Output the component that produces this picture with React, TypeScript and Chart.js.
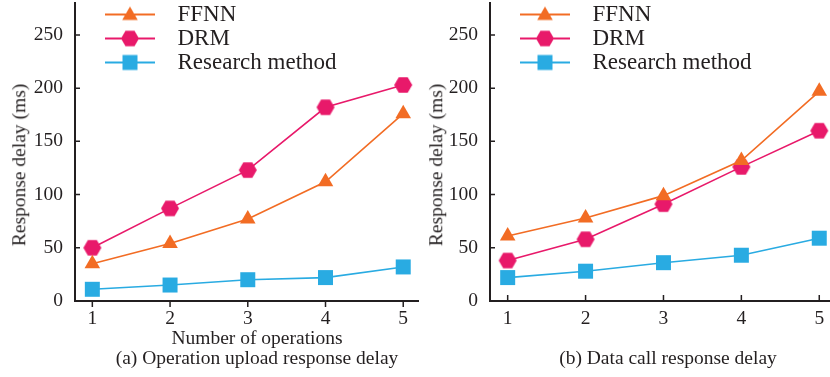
import React, { useEffect, useRef } from "react";
import { Chart, registerables } from "chart.js";

Chart.register(...registerables);

const xValues = [1, 2, 3, 4, 5];
const yTicks = [0, 50, 100, 150, 200, 250];
const seriesNames = ["FFNN", "DRM", "Research method"];

const uploadFFNN = [35, 54, 77, 112, 176];
const uploadDRM = [50, 87, 123, 182, 203];
const uploadResearch = [11, 15, 20, 22, 32];

const callFFNN = [61, 78, 99, 132, 197];
const callDRM = [38, 58, 91, 126, 160];
const callResearch = [22, 28, 36, 43, 59];

const yTitle = "Response delay (ms)";
const xTitleA = "Number of operations";
const captionA = "(a) Operation upload response delay";
const captionB = "(b) Data call response delay";

const ORANGE = "#f26c24";
const PINK = "#e8196a";
const BLUE = "#29abe2";
const INK = "#231f20";
const FONT = "'Liberation Serif', 'Times New Roman', serif";

function drawMarker(ctx: CanvasRenderingContext2D, kind: string, cx: number, cy: number, color: string) {
  ctx.fillStyle = color;
  ctx.beginPath();
  if (kind === "triangle") {
    const r = 9;
    for (let i = 0; i < 3; i++) {
      const a = (i * 2 * Math.PI) / 3;
      const px = cx + Math.sin(a) * r;
      const py = cy - Math.cos(a) * r;
      if (i === 0) ctx.moveTo(px, py);
      else ctx.lineTo(px, py);
    }
  } else if (kind === "hexagon") {
    const r = 9;
    for (let i = 0; i < 6; i++) {
      const a = (i * Math.PI) / 3;
      const px = cx + Math.cos(a) * r;
      const py = cy + Math.sin(a) * r;
      if (i === 0) ctx.moveTo(px, py);
      else ctx.lineTo(px, py);
    }
  } else {
    ctx.rect(cx - 7.5, cy - 7.5, 15, 15);
  }
  ctx.closePath();
  ctx.fill();
}

function makeHexagon(color: string) {
  const c = document.createElement("canvas");
  c.width = 20;
  c.height = 18;
  const ctx = c.getContext("2d")!;
  drawMarker(ctx, "hexagon", 10, 9, color);
  return c;
}

function makeLegendIcon(kind: string, color: string) {
  const c = document.createElement("canvas");
  c.width = 90;
  c.height = 22;
  const ctx = c.getContext("2d")!;
  ctx.strokeStyle = color;
  ctx.lineWidth = 2;
  ctx.beginPath();
  ctx.moveTo(29, 11);
  ctx.lineTo(79, 11);
  ctx.stroke();
  drawMarker(ctx, kind, 54, kind === "triangle" ? 12 : 11, color);
  return c;
}

const tickPlugin = (xDir: number) => ({
  id: "axisTicks",
  afterDraw(chart: any) {
    const ctx = chart.ctx;
    const xs = chart.scales.x;
    const ys = chart.scales.y;
    const area = chart.chartArea;
    ctx.save();
    ctx.strokeStyle = INK;
    ctx.lineWidth = 1.5;
    ctx.beginPath();
    for (const v of yTicks) {
      if (v === 0) continue;
      const py = ys.getPixelForValue(v);
      ctx.moveTo(area.left, py);
      ctx.lineTo(area.left + 5, py);
    }
    for (const v of xValues) {
      const px = xs.getPixelForValue(v);
      ctx.moveTo(px, area.bottom);
      ctx.lineTo(px, area.bottom + 6 * xDir);
    }
    ctx.stroke();
    ctx.restore();
  },
});

function buildConfig(
  ffnn: number[],
  drm: number[],
  research: number[],
  xMin: number,
  xMax: number,
  padLeft: number,
  padRight: number,
  xDir: number
): any {
  const hex = makeHexagon(PINK);
  const icons = [
    makeLegendIcon("triangle", ORANGE),
    makeLegendIcon("hexagon", PINK),
    makeLegendIcon("rect", BLUE),
  ];
  return {
    type: "line",
    data: {
      datasets: [
        {
          label: seriesNames[0],
          data: xValues.map((x, i) => ({ x, y: ffnn[i] })),
          borderColor: ORANGE,
          backgroundColor: ORANGE,
          borderWidth: 1.6,
          pointStyle: "triangle",
          pointRadius: 9,
          pointBorderWidth: 0,
        },
        {
          label: seriesNames[1],
          data: xValues.map((x, i) => ({ x, y: drm[i] })),
          borderColor: PINK,
          backgroundColor: PINK,
          borderWidth: 1.6,
          pointStyle: hex,
          pointRadius: 9,
          pointBorderWidth: 0,
        },
        {
          label: seriesNames[2],
          data: xValues.map((x, i) => ({ x, y: research[i] })),
          borderColor: BLUE,
          backgroundColor: BLUE,
          borderWidth: 1.6,
          pointStyle: "rect",
          pointRadius: 10.6,
          pointBorderWidth: 0,
        },
      ],
    },
    options: {
      responsive: false,
      animation: false,
      clip: false,
      layout: { autoPadding: false, padding: { top: 3, left: padLeft, right: padRight, bottom: 0 } },
      plugins: {
        tooltip: { enabled: false },
        legend: {
          position: "chartArea",
          align: "start",
          title: { display: true, text: " ", font: { size: 1 }, padding: 0.4 },
          labels: {
            usePointStyle: true,
            pointStyleWidth: 90,
            boxHeight: 22,
            padding: 1,
            color: INK,
            font: { family: FONT, size: 23 },
            generateLabels: (chart: any) =>
              chart.data.datasets.map((ds: any, i: number) => ({
                text: ds.label,
                pointStyle: icons[i],
                fillStyle: ds.backgroundColor,
                strokeStyle: ds.borderColor,
                lineWidth: 0,
                fontColor: INK,
                datasetIndex: i,
                hidden: false,
              })),
          },
        },
      },
      scales: {
        x: {
          type: "linear",
          min: xMin,
          max: xMax,
          afterBuildTicks: (axis: any) => {
            axis.ticks = xValues.map((v) => ({ value: v }));
          },
          afterFit: (axis: any) => {
            axis.height = 76;
            axis.paddingLeft = 0;
            axis.paddingRight = 0;
          },
          grid: { display: false, drawTicks: false },
          border: { display: true, color: INK, width: 2 },
          ticks: {
            padding: 6,
            color: INK,
            font: { family: FONT, size: 19.5 },
            maxRotation: 0,
            callback: (v: any) => String(v),
          },
        },
        y: {
          min: 0,
          max: 280,
          afterBuildTicks: (axis: any) => {
            axis.ticks = yTicks.map((v) => ({ value: v }));
          },
          afterFit: (axis: any) => {
            axis.width = 75 - padLeft;
            axis.paddingTop = 0;
            axis.paddingBottom = 0;
          },
          grid: { display: false, drawTicks: false },
          border: { display: true, color: INK, width: 2 },
          ticks: {
            padding: 12,
            color: INK,
            font: { family: FONT, size: 19.5 },
            callback: (v: any) => String(v),
          },
        },
      },
    },
    plugins: [tickPlugin(xDir)],
  };
}

const textStyle: React.CSSProperties = {
  position: "absolute",
  fontFamily: FONT,
  fontSize: "19.5px",
  color: INK,
  whiteSpace: "nowrap",
  lineHeight: "1",
  transform: "translate(-50%, -50%)",
};

export default function App() {
  const leftRef = useRef<HTMLCanvasElement>(null);
  const rightRef = useRef<HTMLCanvasElement>(null);

  useEffect(() => {
    const a = new Chart(
      leftRef.current!,
      buildConfig(uploadFFNN, uploadDRM, uploadResearch, 0.777, 5.19, 0, 2, 1)
    );
    const b = new Chart(
      rightRef.current!,
      buildConfig(callFFNN, callDRM, callResearch, 0.773, 5.125, 2, 1, -1)
    );
    return () => {
      a.destroy();
      b.destroy();
    };
  }, []);

  return (
    <div
      style={{
        position: "fixed",
        left: 0,
        top: 0,
        width: 830,
        height: 377,
        background: "#ffffff",
        overflow: "hidden",
      }}
    >
      <canvas
        ref={leftRef}
        width={420}
        height={377}
        style={{ position: "absolute", left: 0, top: 0, width: 420, height: 377 }}
      />
      <canvas
        ref={rightRef}
        width={415}
        height={377}
        style={{ position: "absolute", left: 415, top: 0, width: 415, height: 377 }}
      />
      <div style={{ ...textStyle, left: 19, top: 165, transform: "translate(-50%, -50%) rotate(-90deg)" }}>
        {yTitle}
      </div>
      <div style={{ ...textStyle, left: 436, top: 165, transform: "translate(-50%, -50%) rotate(-90deg)" }}>
        {yTitle}
      </div>
      <div style={{ ...textStyle, left: 257, top: 338 }}>{xTitleA}</div>
      <div style={{ ...textStyle, left: 257, top: 358 }}>{captionA}</div>
      <div style={{ ...textStyle, left: 668, top: 358 }}>{captionB}</div>
    </div>
  );
}
